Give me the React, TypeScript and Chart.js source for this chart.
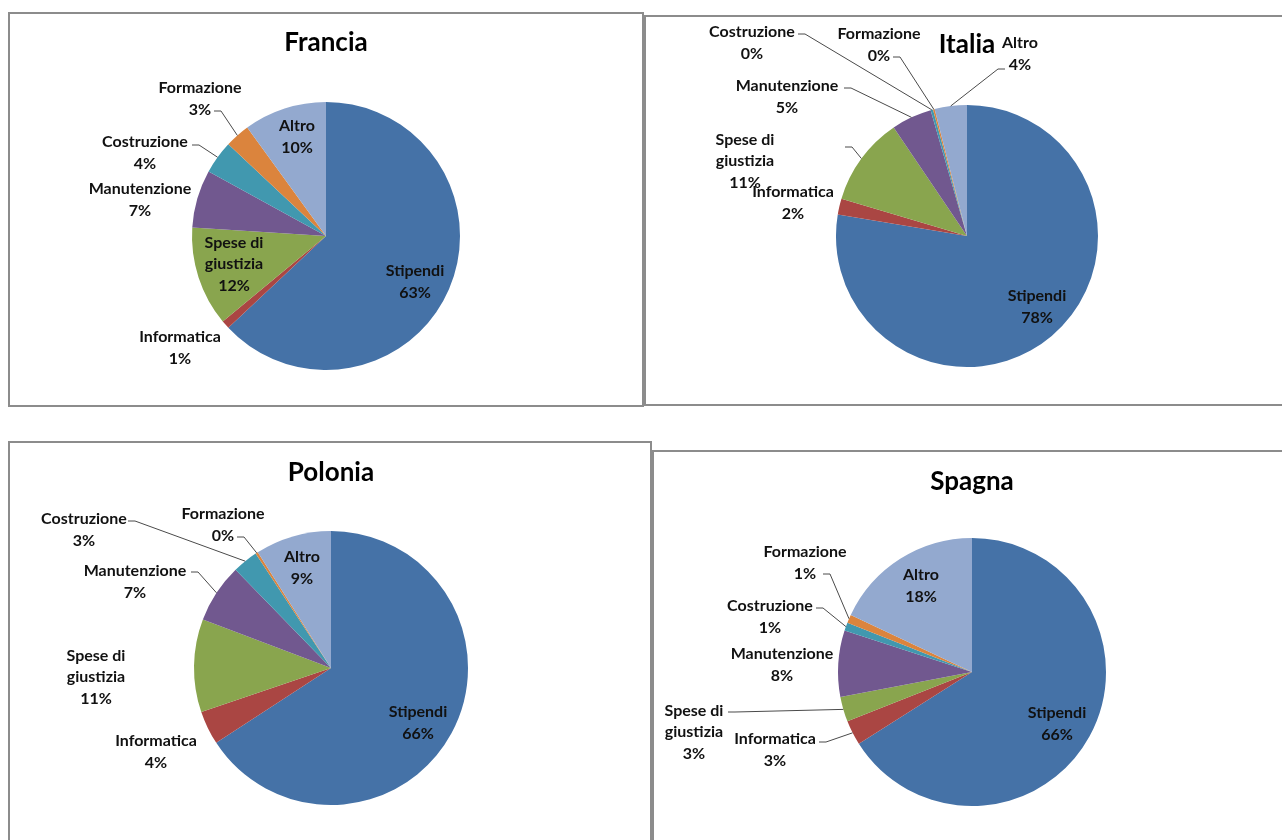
import React, { useEffect, useRef } from "react";
import { Chart, registerables } from "chart.js";

Chart.register(...registerables);

// ---------- DATA ----------
const categories = [
  "Stipendi",
  "Informatica",
  "Spese di giustizia",
  "Manutenzione",
  "Costruzione",
  "Formazione",
  "Altro",
];
const labelLines = [
  ["Stipendi"],
  ["Informatica"],
  ["Spese di", "giustizia"],
  ["Manutenzione"],
  ["Costruzione"],
  ["Formazione"],
  ["Altro"],
];
const franciaValues = [63, 1, 12, 7, 4, 3, 10];
const italiaValues = [78, 2, 11, 5, 0.3, 0.2, 4];
const poloniaValues = [66, 4, 11, 7, 3, 0.3, 9];
const spagnaValues = [66, 3, 3, 8, 1, 1, 18];

const sliceColors = [
  "#4572A7",
  "#AA4643",
  "#89A54E",
  "#71588F",
  "#4198AF",
  "#DB843D",
  "#93A9CF",
];

// ---------- LAYOUT (page coordinates / pixel offsets) ----------
type Lbl = { dx: number; dy: number; lead?: [number, number] };
type PanelCfg = {
  title: string;
  values: number[];
  panel: { left: number; top: number; width: number; height: number };
  cx: number;
  cy: number;
  r: number;
  titleCy: number;
  labels: Lbl[];
};

const panels: PanelCfg[] = [
  {
    title: "Francia",
    values: franciaValues,
    panel: { left: 8, top: 12, width: 636, height: 395 },
    cx: 326,
    cy: 236,
    r: 134,
    titleCy: 43,
    labels: [
      { dx: 89, dy: 46 },
      { dx: -146, dy: 112 },
      { dx: -92, dy: 28 },
      { dx: -186, dy: -36 },
      { dx: -181, dy: -83, lead: [-134, -91] },
      { dx: -126, dy: -137, lead: [-112, -125] },
      { dx: -29, dy: -99 },
    ],
  },
  {
    title: "Italia",
    values: italiaValues,
    panel: { left: 644, top: 15, width: 700, height: 391 },
    cx: 967,
    cy: 236,
    r: 131,
    titleCy: 45,
    labels: [
      { dx: 70, dy: 71 },
      { dx: -174, dy: -33 },
      { dx: -222, dy: -75, lead: [-122, -89] },
      { dx: -180, dy: -139, lead: [-123, -148] },
      { dx: -215, dy: -193, lead: [-169, -202] },
      { dx: -88, dy: -191, lead: [-74, -179] },
      { dx: 53, dy: -182, lead: [38, -167] },
    ],
  },
  {
    title: "Polonia",
    values: poloniaValues,
    panel: { left: 8, top: 441, width: 644, height: 420 },
    cx: 331,
    cy: 668,
    r: 137,
    titleCy: 473,
    labels: [
      { dx: 87, dy: 55 },
      { dx: -175, dy: 84 },
      { dx: -235, dy: 9 },
      { dx: -196, dy: -86, lead: [-140, -96] },
      { dx: -247, dy: -138, lead: [-203, -147] },
      { dx: -108, dy: -143, lead: [-94, -131] },
      { dx: -29, dy: -100 },
    ],
  },
  {
    title: "Spagna",
    values: spagnaValues,
    panel: { left: 652, top: 450, width: 700, height: 420 },
    cx: 972,
    cy: 672,
    r: 134,
    titleCy: 482,
    labels: [
      { dx: 85, dy: 52 },
      { dx: -197, dy: 78, lead: [-153, 70] },
      { dx: -278, dy: 60, lead: [-244, 40] },
      { dx: -190, dy: -7 },
      { dx: -202, dy: -55, lead: [-156, -64] },
      { dx: -167, dy: -109, lead: [-149, -98] },
      { dx: -51, dy: -86 },
    ],
  },
];

const FONT_FAMILY = "Lato, 'Liberation Sans', sans-serif";
const LABEL_SIZE = 16;
const TITLE_SIZE = 26;

const sliceLabelPlugin = {
  id: "sliceLabels",
  afterDatasetsDraw(chart: any, _args: any, opts: any) {
    const labels: Lbl[] = opts.labels || [];
    const meta = chart.getDatasetMeta(0);
    const data: number[] = chart.data.datasets[0].data;
    const total = data.reduce((a, b) => a + b, 0);
    const ctx = chart.ctx;
    ctx.save();
    ctx.font = `bold ${LABEL_SIZE}px ${FONT_FAMILY}`;
    ctx.fillStyle = "#111111";
    ctx.textAlign = "center";
    ctx.textBaseline = "middle";
    const lineH = 21.5;
    meta.data.forEach((arc: any, i: number) => {
      const L = labels[i];
      if (!L) return;
      const p = arc.getProps(["x", "y", "startAngle", "endAngle", "outerRadius"], true);
      const lx = p.x + L.dx;
      const ly = p.y + L.dy;
      const pct = Math.round((data[i] / total) * 100) + "%";
      const lines = [...labelLines[i], pct];
      const n = lines.length;
      lines.forEach((t, k) => {
        ctx.fillText(t, lx, ly + (k - (n - 1) / 2) * lineH);
      });
      if (L.lead) {
        const mid = (p.startAngle + p.endAngle) / 2;
        const ex = p.x + p.outerRadius * Math.cos(mid);
        const ey = p.y + p.outerRadius * Math.sin(mid);
        const sx = p.x + L.lead[0];
        const sy = p.y + L.lead[1];
        const dir = ex > sx ? 1 : -1;
        ctx.beginPath();
        ctx.strokeStyle = "#4a4a4a";
        ctx.lineWidth = 1;
        ctx.moveTo(sx, sy);
        ctx.lineTo(sx + 7 * dir, sy);
        ctx.lineTo(ex, ey);
        ctx.stroke();
      }
    });
    ctx.restore();
  },
};

function PieChart({ cfg }: { cfg: PanelCfg }) {
  const ref = useRef<HTMLCanvasElement | null>(null);
  useEffect(() => {
    const canvas = ref.current;
    if (!canvas) return;
    const { panel, cx, cy, r, titleCy } = cfg;
    const titleLH = TITLE_SIZE * 1.2;
    const padTop = titleCy - panel.top - titleLH / 2;
    const titleBottom = cy - r - (titleCy + titleLH / 2);
    const chart = new Chart(canvas, {
      type: "pie",
      data: {
        labels: categories,
        datasets: [
          {
            data: cfg.values,
            backgroundColor: sliceColors,
            borderWidth: 0,
          },
        ],
      },
      options: {
        responsive: false,
        animation: false,
        events: [],
        layout: {
          padding: {
            left: cx - r - panel.left,
            right: panel.left + panel.width - (cx + r),
            top: padTop,
            bottom: panel.top + panel.height - (cy + r),
          },
        },
        plugins: {
          legend: { display: false },
          tooltip: { enabled: false },
          title: {
            display: true,
            text: cfg.title,
            color: "#000000",
            font: { family: FONT_FAMILY, size: TITLE_SIZE, weight: "bold", lineHeight: 1.2 },
            padding: { top: 0, bottom: titleBottom },
          },
          sliceLabels: { labels: cfg.labels },
        } as any,
      },
      plugins: [sliceLabelPlugin],
    });
    return () => chart.destroy();
  }, [cfg]);
  const { panel } = cfg;
  return (
    <>
      <div
        style={{
          position: "absolute",
          left: panel.left,
          top: panel.top,
          width: panel.width,
          height: panel.height,
          border: "2px solid #8c8c8c",
          boxSizing: "border-box",
          background: "#ffffff",
        }}
      />
      <canvas
        ref={ref}
        width={panel.width}
        height={panel.height}
        style={{
          position: "absolute",
          left: panel.left,
          top: panel.top,
          width: panel.width,
          height: panel.height,
        }}
      />
    </>
  );
}

export default function App() {
  return (
    <div
      style={{
        position: "fixed",
        left: 0,
        top: 0,
        width: "100vw",
        height: "100vh",
        overflow: "hidden",
        background: "#ffffff",
      }}
    >
      {panels.map((p) => (
        <PieChart key={p.title} cfg={p} />
      ))}
    </div>
  );
}
